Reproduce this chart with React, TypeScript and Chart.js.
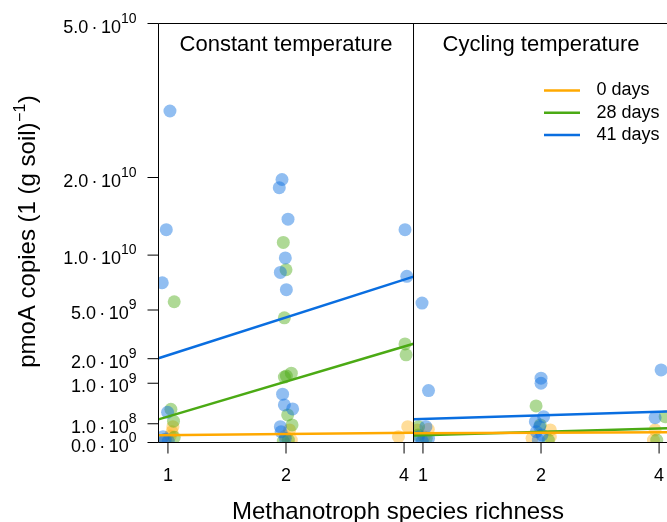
import React, { useEffect, useRef } from 'react';
import { Chart, registerables } from 'chart.js';

Chart.register(...registerables);

// ---------- data ----------
const panelTitles = ['Constant temperature', 'Cycling temperature'];
const richnessTicks = [1, 2, 4];
const dayLabels = ['0 days', '28 days', '41 days'];
const lineColors = ['#FFA900', '#4BAA14', '#0A6EE0'];
const pointColors = ['rgba(255,169,0,0.40)', 'rgba(75,170,20,0.45)', 'rgba(10,110,224,0.45)'];
const yTickValues = [0, 1e8, 1e9, 2e9, 5e9, 1e10, 2e10, 5e10];
const yMaxValue = 5e10;
const xTitle = 'Methanotroph species richness';

// points: [richness, horizontal jitter (log2 units), pmoA copies]
const constantDay0: [number, number, number][] = [
  [1, 0.042, 7.1e7], [1, 0.034, 3.3e7], [1, 0.02, 1.2e7], [1, -0.023, 1.8e6],
  [2, 0.03, 4.5e7], [2, -0.006, 1.2e7], [2, 0.045, 1.8e6],
  [4, -0.048, 9.6e6], [4, 0.031, 7.1e7],
];
const constantDay28: [number, number, number][] = [
  [1, 0.053, 5.64e9], [1, 0.025, 3.15e8], [1, 0.047, 1.3e8], [1, 0.053, 7.7e6],
  [2, -0.023, 1.14e10], [2, 0, 8.5e9], [2, -0.014, 4.43e9], [2, 0.045, 1.37e9], [2, 0.003, 1.26e9],
  [2, -0.014, 1.22e9], [2, 0.014, 2.16e8], [2, 0.051, 8.8e7], [2, 0.02, 1.8e6], [2, -0.023, 6e5],
  [4, 0.008, 2.77e9], [4, 0.017, 2.19e9],
];
const constantDay41: [number, number, number][] = [
  [1, 0.017, 3.13e10], [1, -0.014, 1.29e10], [1, -0.048, 7.27e9], [1, -0.003, 2.61e8],
  [1, -0.042, 9.6e6], [1, -0.023, 2.9e6], [1, 0.003, 6e5],
  [2, -0.034, 1.97e10], [2, -0.057, 1.85e10], [2, 0.017, 1.42e10], [2, -0.006, 9.7e9],
  [2, -0.048, 8.24e9], [2, 0.003, 6.65e9], [2, -0.029, 6.64e8], [2, -0.014, 4.02e8],
  [2, 0.056, 3.21e8], [2, -0.048, 7.1e7], [2, -0.042, 3.3e7], [2, -0.006, 5e6],
  [4, 0.008, 1.29e10], [4, 0.023, 7.86e9],
];
const cyclingDay0: [number, number, number][] = [
  [1, -0.048, 4.5e7], [1, 0.045, 5e7], [1, 0.011, 9e6],
  [2, 0.079, 4.5e7], [2, 0.079, 9.6e6], [2, -0.076, 5e6],
  [4, -0.034, 4.5e7], [4, -0.048, 1.8e6],
];
const cyclingDay28: [number, number, number][] = [
  [1, -0.037, 7.1e7], [1, -0.04, 1.6e7], [1, 0.028, 5e6],
  [2, -0.042, 3.81e8], [2, -0.006, 8.8e7], [2, 0.062, 1.8e6],
  [4, 0.051, 1.9e8], [4, -0.02, 1.8e6],
];
const cyclingDay41: [number, number, number][] = [
  [1, -0.008, 5.54e9], [1, 0.047, 7.67e8], [1, 0.025, 7.1e7], [1, -0.037, 9.6e6],
  [1, 0.047, 5e6], [1, -0.006, 6e5],
  [2, 0, 1.18e9], [2, 0, 1.0e9], [2, 0.022, 1.9e8], [2, -0.048, 1.24e8],
  [2, -0.012, 7.1e7], [2, -0.04, 3.3e7], [2, 0.008, 1.6e7], [2, -0.023, 1.8e6],
  [4, 0.017, 1.5e9], [4, -0.034, 1.76e8],
];

// fitted values (regression in sqrt(y) ~ log2(richness)) at richness 1 and 4
const constantFit0: [number, number] = [1.52e7, 2.69e7];
const constantFit28: [number, number] = [1.92e8, 2.62e9];
const constantFit41: [number, number] = [2.17e9, 7.55e9];
const cyclingFit0: [number, number] = [2.4e7, 3.0e7];
const cyclingFit28: [number, number] = [1.5e7, 5.6e7];
const cyclingFit41: [number, number] = [1.58e8, 2.68e8];

// ---------- scale geometry ----------
const xPad = 0.08; // R-style 4% expansion of [0, 2]
const panelOffset = 2 + 2 * xPad;
const panelSplit = 2 + xPad;
const xMin = -xPad;
const xMax = 4.227; // right panel is cut off by the figure edge

const FONT = '"Liberation Sans", Arial, Helvetica, sans-serif';

function pointsData(arr: [number, number, number][], panel: number) {
  return arr.map(([r, j, v]) => ({ x: Math.log2(r) + j + panel * panelOffset, y: Math.sqrt(v) }));
}
function lineData(fit: [number, number], panel: number) {
  const s1 = Math.sqrt(fit[0]);
  const s4 = Math.sqrt(fit[1]);
  const b = (s4 - s1) / 2;
  return [-xPad, 2 + xPad].map((lx) => ({ x: lx + panel * panelOffset, y: s1 + b * lx }));
}

function drawSci(ctx: CanvasRenderingContext2D, v: number, xRight: number, yc: number) {
  let mant: string;
  let exp: number;
  if (v === 0) {
    mant = '0.0';
    exp = 0;
  } else {
    exp = Math.floor(Math.log10(v) + 1e-9);
    mant = (v / Math.pow(10, exp)).toFixed(1);
  }
  const mainFont = `18px ${FONT}`;
  const supFont = `14px ${FONT}`;
  ctx.font = supFont;
  const wExp = ctx.measureText(String(exp)).width;
  ctx.font = mainFont;
  const wTen = ctx.measureText('10').width;
  const wMant = ctx.measureText(mant).width;
  const wDot = ctx.measureText('·').width;
  const gap = 12.7;
  const total = wMant + gap + wTen + wExp;
  const x = xRight - total;
  ctx.textAlign = 'left';
  ctx.textBaseline = 'alphabetic';
  const base = yc + 9;
  ctx.fillText(mant, x, base);
  ctx.fillText('·', x + wMant + gap / 2 - wDot / 2, base);
  ctx.fillText('10', x + wMant + gap, base);
  ctx.font = supFont;
  ctx.fillText(String(exp), x + wMant + gap + wTen, yc - 0.7);
}

const decorPlugin = {
  id: 'decor',
  beforeDatasetDraw(chart: any, args: any) {
    const ds = chart.data.datasets[args.index];
    const a = chart.chartArea;
    const div = chart.scales.x.getPixelForValue(panelSplit);
    const l = ds.panel === 0 ? a.left : div;
    const r = ds.panel === 0 ? div : a.right;
    const ctx = chart.ctx;
    ctx.save();
    ctx.beginPath();
    ctx.rect(l, a.top, r - l, a.bottom - a.top);
    ctx.clip();
  },
  afterDatasetDraw(chart: any) {
    chart.ctx.restore();
  },
  afterDraw(chart: any) {
    const ctx: CanvasRenderingContext2D = chart.ctx;
    const a = chart.chartArea;
    const xs = chart.scales.x;
    const ys = chart.scales.y;
    ctx.save();
    ctx.strokeStyle = '#000';
    ctx.fillStyle = '#000';
    ctx.lineWidth = 1;
    const div = xs.getPixelForValue(panelSplit);
    const rightEdge = xs.getPixelForValue(panelOffset + 2 + xPad);
    // boxes
    ctx.beginPath();
    ctx.moveTo(a.left, a.top);
    ctx.lineTo(rightEdge, a.top);
    ctx.moveTo(a.left, a.bottom);
    ctx.lineTo(rightEdge, a.bottom);
    ctx.moveTo(a.left, a.top);
    ctx.lineTo(a.left, a.bottom);
    ctx.moveTo(div, a.top);
    ctx.lineTo(div, a.bottom);
    ctx.moveTo(rightEdge, a.top);
    ctx.lineTo(rightEdge, a.bottom);
    ctx.stroke();

    // y ticks
    const tickLen = 11;
    ctx.beginPath();
    yTickValues.forEach((v) => {
      const y = ys.getPixelForValue(Math.sqrt(v));
      ctx.moveTo(a.left - tickLen, y);
      ctx.lineTo(a.left, y);
    });
    ctx.stroke();
    yTickValues.forEach((v) => {
      const y = ys.getPixelForValue(Math.sqrt(v));
      drawSci(ctx, v, a.left - 22, y);
    });

    // x ticks per panel
    ctx.font = `18px ${FONT}`;
    ctx.textAlign = 'center';
    ctx.textBaseline = 'middle';
    [0, 1].forEach((p) => {
      richnessTicks.forEach((r) => {
        const x = xs.getPixelForValue(Math.log2(r) + p * panelOffset);
        ctx.beginPath();
        ctx.moveTo(x, a.bottom);
        ctx.lineTo(x, a.bottom + tickLen);
        ctx.stroke();
        ctx.fillText(String(r), x, 476.5);
      });
    });

    // panel titles
    ctx.font = `22px ${FONT}`;
    ctx.textAlign = 'center';
    ctx.textBaseline = 'alphabetic';
    panelTitles.forEach((t, p) => {
      const c = xs.getPixelForValue(1 + p * panelOffset);
      ctx.fillText(t, c, 51);
    });

    // legend
    ctx.font = `18px ${FONT}`;
    ctx.textAlign = 'left';
    ctx.textBaseline = 'middle';
    dayLabels.forEach((lab, i) => {
      const y = 90.5 + i * 22.2;
      ctx.strokeStyle = lineColors[i];
      ctx.lineWidth = 2.5;
      ctx.beginPath();
      ctx.moveTo(544, y);
      ctx.lineTo(580, y);
      ctx.stroke();
      ctx.fillText(lab, 596.5, y);
    });

    // x title
    ctx.font = `24px ${FONT}`;
    ctx.textAlign = 'center';
    ctx.textBaseline = 'alphabetic';
    ctx.fillText(xTitle, 398, 518.5);

    // y title with superscript
    const mainF = `24px ${FONT}`;
    const supF = `16px ${FONT}`;
    const part1 = 'pmoA copies (1 (g soil)';
    const sup = '\u22121';
    const part2 = ')';
    ctx.font = mainF;
    const w1 = ctx.measureText(part1).width;
    const w2 = ctx.measureText(part2).width;
    ctx.font = supF;
    const ws = ctx.measureText(sup).width;
    const total = w1 + ws + w2;
    ctx.save();
    ctx.translate(28, (a.top + a.bottom) / 2 - 1);
    ctx.rotate(-Math.PI / 2);
    ctx.textAlign = 'left';
    ctx.textBaseline = 'alphabetic';
    const x0 = -total / 2;
    ctx.font = mainF;
    ctx.fillText(part1, x0, 7);
    ctx.font = supF;
    ctx.fillText(sup, x0 + w1 + 0.5, -3);
    ctx.font = mainF;
    ctx.fillText(part2, x0 + w1 + ws + 1, 7);
    ctx.restore();

    ctx.restore();
  },
};

export default function App() {
  const ref = useRef<HTMLCanvasElement | null>(null);
  useEffect(() => {
    if (!ref.current) return;
    const pointSets = [
      [constantDay0, constantDay28, constantDay41],
      [cyclingDay0, cyclingDay28, cyclingDay41],
    ];
    const fitSets = [
      [constantFit0, constantFit28, constantFit41],
      [cyclingFit0, cyclingFit28, cyclingFit41],
    ];
    const datasets: any[] = [];
    [0, 1].forEach((p) => {
      [0, 1, 2].forEach((d) => {
        datasets.push({
          type: 'scatter',
          label: `${panelTitles[p]} ${dayLabels[d]}`,
          panel: p,
          data: pointsData(pointSets[p][d], p),
          backgroundColor: pointColors[d],
          borderWidth: 0,
          pointRadius: 6.5,
          pointHoverRadius: 6.5,
          order: 3 - d,
        });
      });
    });
    [0, 1].forEach((p) => {
      [0, 1, 2].forEach((d) => {
        datasets.push({
          type: 'line',
          label: `fit ${panelTitles[p]} ${dayLabels[d]}`,
          panel: p,
          data: lineData(fitSets[p][d], p),
          borderColor: lineColors[d],
          borderWidth: 2.5,
          pointRadius: 0,
          fill: false,
          order: 0,
        });
      });
    });
    const chart = new Chart(ref.current, {
      type: 'scatter',
      data: { datasets },
      options: {
        animation: false,
        responsive: false,
        devicePixelRatio: 1,
        layout: { autoPadding: false, padding: { left: 158.5, right: 0, top: 23.5, bottom: 79.5 } },
        plugins: { legend: { display: false }, tooltip: { enabled: false } },
        scales: {
          x: { type: 'linear', min: xMin, max: xMax, display: false },
          y: { type: 'linear', min: 0, max: Math.sqrt(yMaxValue), display: false },
        },
      },
      plugins: [decorPlugin],
    } as any);
    return () => chart.destroy();
  }, []);
  return (
    <div style={{ position: 'fixed', left: 0, top: 0, width: 667, height: 522, background: '#fff' }}>
      <canvas ref={ref} width={667} height={522} style={{ display: 'block' }} />
    </div>
  );
}
